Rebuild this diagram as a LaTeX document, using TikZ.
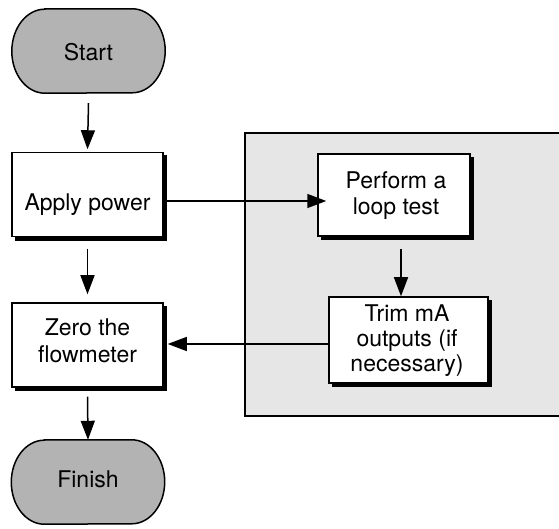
\documentclass[tikz,border=0pt]{standalone}
\usepackage{fontspec}
\setmainfont{TeX Gyre Heros}
\usetikzlibrary{arrows.meta}

\definecolor{termgray}{RGB}{179,179,179}
\definecolor{panelgray}{RGB}{230,230,230}

\pgfdeclarelayer{back}
\pgfdeclarelayer{shade}
\pgfsetlayers{back,shade,main}

% stadium outline with elliptical ends around a node
\newcommand\stadiumpath[1]{%
  ([xshift=33pt]#1.north west) -- ([xshift=-33pt]#1.north east)
  arc[start angle=90, end angle=-90, x radius=33pt, y radius=42pt]
  -- ([xshift=33pt]#1.south west)
  arc[start angle=270, end angle=90, x radius=33pt, y radius=42pt] -- cycle}

\tikzset{
  txt/.style={font=\fontsize{23}{27}\selectfont, align=center, inner sep=0pt, anchor=base},
  terminal/.style={inner sep=0pt, minimum width=153pt, minimum height=84pt},
  procbox/.style={draw, line width=1.5pt, fill=white, inner sep=0pt},
  arr/.style={line width=1.5pt, -{Triangle[length=19pt,width=14pt]}},
}

\begin{document}
\begin{tikzpicture}[x=1pt,y=1pt]
\useasboundingbox (0,0) rectangle (559,529);

% grey panel holding the loop test steps
\begin{pgfonlayer}{back}
  \fill[panelgray] (245,113) rectangle (565,396);
  \draw[line width=1.5pt] (565,396) -- (245,396) -- (245,113) -- (565,113);
\end{pgfonlayer}

% start / finish terminals
\node[terminal] (start) at (88.5,478) {};
\node[terminal] (finish) at (88,47) {};
\begin{pgfonlayer}{shade}
\foreach \t in {start,finish}{
  \fill[black, shift={(2pt,-2pt)}] \stadiumpath{\t};
  \filldraw[fill=termgray, line width=1.5pt] \stadiumpath{\t};
}
\end{pgfonlayer}
\node[txt] (startt) at (88.5,468) {Start};
\node[txt] (finisht) at (88,41) {Finish};

% process steps
\node[procbox, minimum width=151pt, minimum height=84pt] (apply) at (87.5,334.3) {};
\node[procbox, minimum width=151pt, minimum height=84pt] (zero) at (87.5,184) {};
\node[procbox, minimum width=152pt, minimum height=82pt] (perform) at (394,334) {};
\node[procbox, minimum width=159pt, minimum height=86pt] (trim) at (408.5,189) {};

% solid drop shadows behind the step boxes
\begin{pgfonlayer}{shade}
\foreach \b in {apply,zero,perform,trim}
  \fill ([shift={(3.5pt,-3.5pt)}]\b.south west) rectangle ([shift={(3.5pt,-3.5pt)}]\b.north east);
\end{pgfonlayer}

% labels, placed by the baseline of their last line
\node[txt] (applyt) at (87.5,318.3) {Apply power};
\node[txt, font=\fontsize{23}{27}\selectfont] (zerot) at (87.5,166.3) {Zero the\\flowmeter};
\node[txt, font=\fontsize{23}{26}\selectfont] (performt) at (396,314) {Perform a\\loop test};
\node[txt, font=\fontsize{23}{25}\selectfont] (trimt) at (407,157) {Trim mA\\outputs (if\\necessary)};

% connectors
\draw[arr] ([yshift=-10pt]start.south) -- ([yshift=2.7pt]apply.north);
\draw[arr] ([yshift=-11.3pt]apply.south) -- ([yshift=8pt]zero.north);
\draw[arr] ([yshift=-9pt]zero.south) -- (finish.north);
\draw[arr] ([yshift=-6.3pt]apply.east) -- ([xshift=9pt,yshift=-6pt]perform.west);
\draw[arr] ([xshift=7pt,yshift=-12pt]perform.south) -- ([xshift=7pt]perform.south |- trim.north);
\draw[arr] ([yshift=-4pt]trim.west) -- ([xshift=4pt,yshift=1pt]zero.east);
\end{tikzpicture}
\end{document}
